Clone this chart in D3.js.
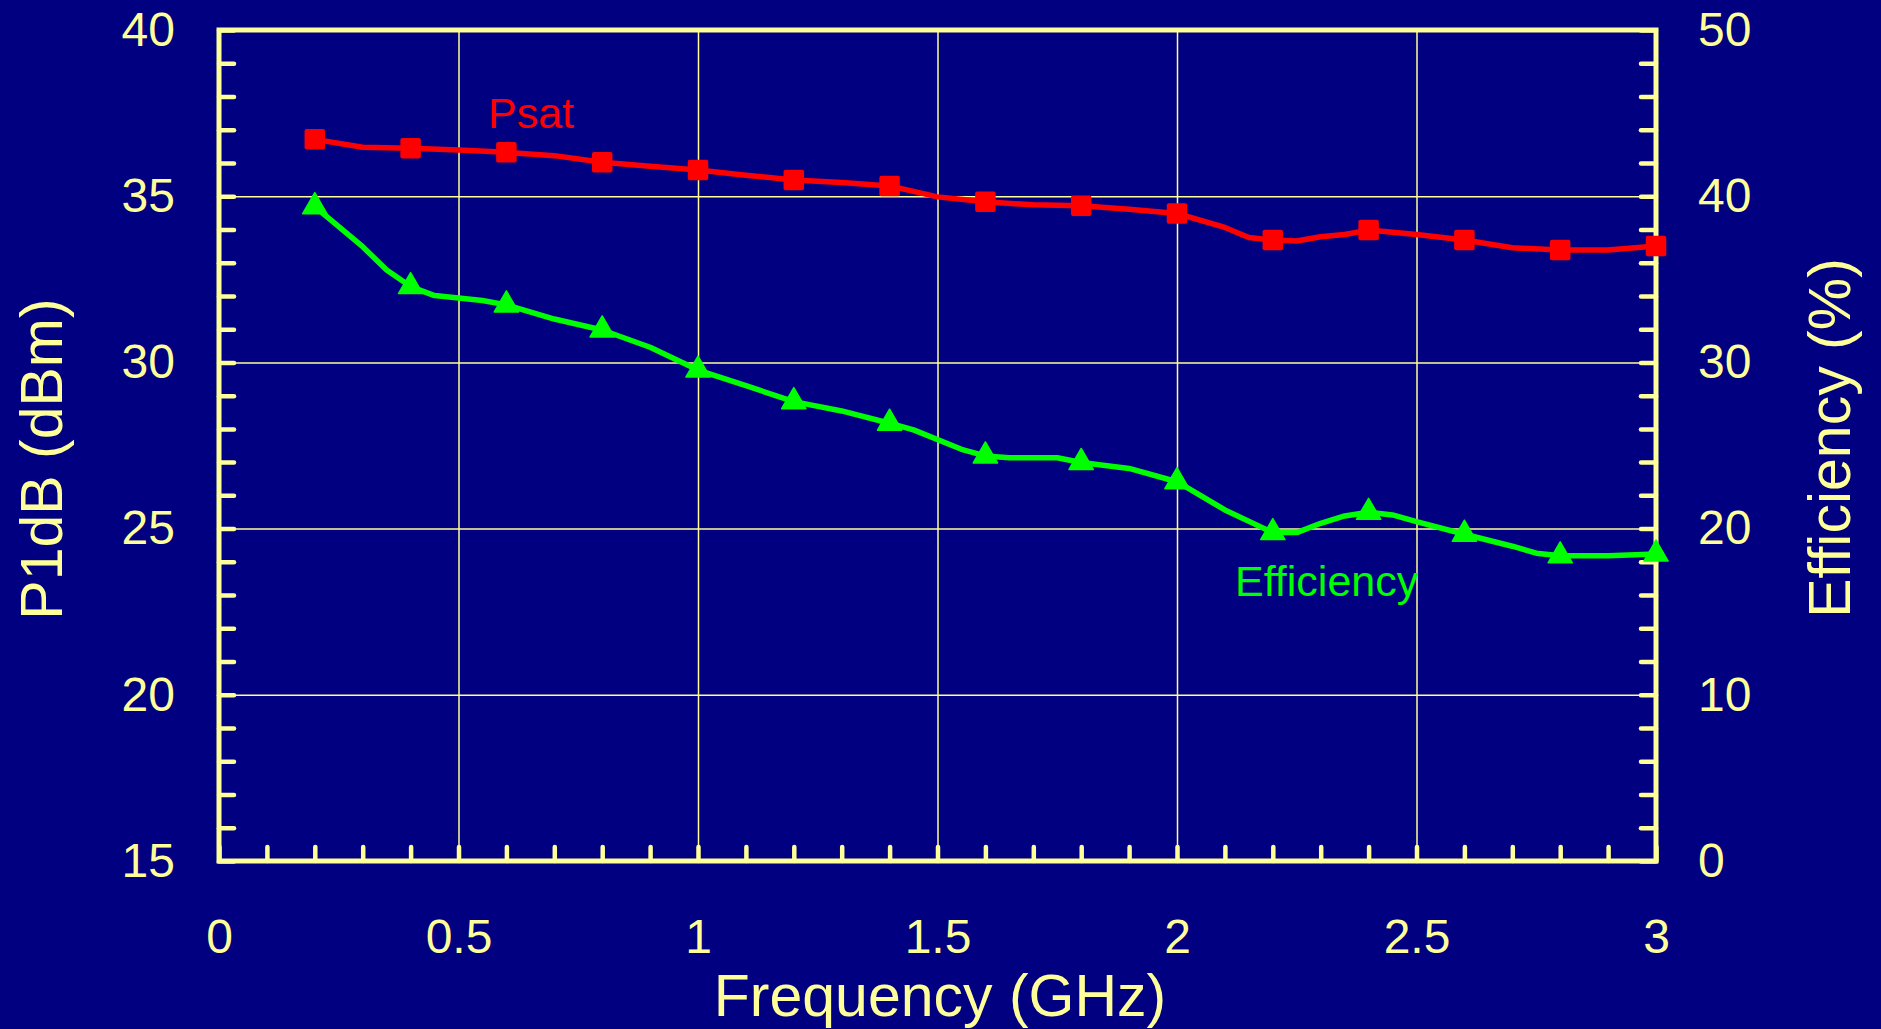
<!DOCTYPE html>
<html>
<head>
<meta charset="utf-8">
<script src="https://cdn.jsdelivr.net/npm/d3@7"></script>
<style>
  body { margin: 0; background: #000080; }
  svg { display: block; }
  text { font-family: "Liberation Sans", Arial, Helvetica, sans-serif; }
</style>
</head>
<body>
<script>
// tick labels
var xTickVals = [0, 0.5, 1, 1.5, 2, 2.5, 3];
var leftTickVals = [15, 20, 25, 30, 35, 40];
var rightTickVals = [0, 10, 20, 30, 40, 50];

// Psat curve (dBm)
var psatFreq = [0.2, 0.3, 0.4, 0.5, 0.6, 0.7, 0.8, 0.9, 1.0, 1.1, 1.2, 1.3, 1.4, 1.5, 1.6, 1.7, 1.8, 1.9, 2.0,
                2.1, 2.15, 2.2, 2.25, 2.3, 2.35, 2.4, 2.5, 2.6, 2.7, 2.8, 2.9, 3.0];
var psat = [36.71, 36.47, 36.44, 36.39, 36.32, 36.22, 36.02, 35.90, 35.79, 35.63, 35.49, 35.41, 35.31, 34.98, 34.83, 34.74, 34.71, 34.61, 34.48,
            34.06, 33.76, 33.68, 33.65, 33.78, 33.85, 33.98, 33.85, 33.68, 33.45, 33.38, 33.38, 33.50];

// Efficiency curve (%)
var effFreq = [0.2, 0.3, 0.35, 0.4, 0.45, 0.55, 0.6, 0.7, 0.8, 0.9, 1.0, 1.1, 1.2, 1.3, 1.4, 1.45, 1.55, 1.6, 1.65, 1.75, 1.8, 1.9, 2.0,
               2.1, 2.2, 2.25, 2.3, 2.35, 2.4, 2.45, 2.5, 2.6, 2.7, 2.75, 2.8, 2.9, 3.0];
var eff = [39.37, 36.96, 35.56, 34.56, 34.02, 33.72, 33.46, 32.61, 31.95, 30.91, 29.54, 28.60, 27.64, 27.08, 26.34, 25.94, 24.77, 24.37, 24.26, 24.26, 23.98, 23.62, 22.82,
           21.12, 19.76, 19.76, 20.32, 20.76, 20.98, 20.82, 20.42, 19.66, 18.94, 18.52, 18.36, 18.36, 18.47];

var w = 1881, h = 1029;
var pLeft = 219, pRight = 1656, pTop = 30, pBottom = 861;
var yellow = "#ffff99";

var svg = d3.select("body").append("svg")
    .attr("width", w)
    .attr("height", h);

var x = d3.scaleLinear().domain([0, 3]).range([pLeft, pRight]);
var yL = d3.scaleLinear().domain([15, 40]).range([pBottom, pTop]);
var yR = d3.scaleLinear().domain([0, 50]).range([pBottom, pTop]);

// grid
svg.append("g")
    .attr("class", "grid")
    .attr("transform", "translate(0," + pBottom + ")")
    .call(d3.axisBottom(x).tickValues([0.5, 1, 1.5, 2, 2.5]).tickSize(-(pBottom - pTop)).tickFormat(""));
svg.append("g")
    .attr("class", "grid")
    .attr("transform", "translate(" + pLeft + ",0)")
    .call(d3.axisLeft(yL).tickValues([20, 25, 30, 35]).tickSize(-(pRight - pLeft)).tickFormat(""));
svg.selectAll(".grid .domain").remove();
svg.selectAll(".grid line").attr("stroke", yellow).attr("stroke-width", 1.5);

// frame
svg.append("rect")
    .attr("x", pLeft).attr("y", pTop)
    .attr("width", pRight - pLeft).attr("height", pBottom - pTop)
    .attr("fill", "none")
    .attr("stroke", yellow)
    .attr("stroke-width", 5);

// minor + major ticks, pointing inwards
svg.append("g")
    .attr("class", "tk")
    .attr("transform", "translate(0," + pBottom + ")")
    .call(d3.axisBottom(x).tickValues(x.ticks(30)).tickSize(-14).tickFormat(""));
svg.append("g")
    .attr("class", "tk")
    .attr("transform", "translate(" + pLeft + ",0)")
    .call(d3.axisLeft(yL).tickValues(yL.ticks(25)).tickSize(-15).tickFormat(""));
svg.append("g")
    .attr("class", "tk")
    .attr("transform", "translate(" + pRight + ",0)")
    .call(d3.axisRight(yR).tickValues(yR.ticks(25)).tickSize(-15).tickFormat(""));
svg.selectAll(".tk .domain").remove();
svg.selectAll(".tk line")
    .attr("stroke", yellow)
    .attr("stroke-width", 4.5)
    .attr("stroke-linecap", "round");

// tick labels
svg.append("g")
    .attr("class", "lab")
    .attr("transform", "translate(0," + pBottom + ")")
    .call(d3.axisBottom(x).tickValues(xTickVals).tickSize(0).tickPadding(58).tickFormat(function (d) { return String(d); }));
svg.append("g")
    .attr("class", "lab")
    .attr("transform", "translate(" + pLeft + ",0)")
    .call(d3.axisLeft(yL).tickValues(leftTickVals).tickSize(0).tickPadding(44).tickFormat(function (d) { return String(d); }));
svg.append("g")
    .attr("class", "lab")
    .attr("transform", "translate(" + pRight + ",0)")
    .call(d3.axisRight(yR).tickValues(rightTickVals).tickSize(0).tickPadding(42).tickFormat(function (d) { return String(d); }));
svg.selectAll(".lab .domain").remove();
svg.selectAll(".lab text")
    .attr("fill", yellow)
    .attr("font-size", 48)
    .style("font-family", "'Liberation Sans', Arial, sans-serif");

// axis titles
svg.append("text")
    .attr("x", 940).attr("y", 1016)
    .attr("text-anchor", "middle")
    .attr("font-size", 59)
    .attr("fill", yellow)
    .text("Frequency (GHz)");
svg.append("text")
    .attr("transform", "translate(62,459) rotate(-90)")
    .attr("text-anchor", "middle")
    .attr("font-size", 59)
    .attr("fill", yellow)
    .text("P1dB (dBm)");
svg.append("text")
    .attr("transform", "translate(1850,438) rotate(-90)")
    .attr("text-anchor", "middle")
    .attr("font-size", 59)
    .attr("fill", yellow)
    .text("Efficiency (%)");

// curves
var psatData = psatFreq.map(function (f, i) { return [f, psat[i]]; });
var effData = effFreq.map(function (f, i) { return [f, eff[i]]; });

function onMarker(f) {
    var t = Math.round(f * 10);
    return Math.abs(f * 10 - t) < 1e-6 && t % 2 === 0;
}

svg.append("path")
    .datum(psatData)
    .attr("fill", "none")
    .attr("stroke", "#ff0000")
    .attr("stroke-width", 5.5)
    .attr("stroke-linejoin", "round")
    .attr("d", d3.line().x(function (d) { return x(d[0]); }).y(function (d) { return yL(d[1]); }));

svg.append("path")
    .datum(effData)
    .attr("fill", "none")
    .attr("stroke", "#00ff00")
    .attr("stroke-width", 5.5)
    .attr("stroke-linejoin", "round")
    .attr("d", d3.line().x(function (d) { return x(d[0]); }).y(function (d) { return yR(d[1]); }));

var sq = 20.5;
svg.selectAll(".sq")
    .data(psatData.filter(function (d) { return onMarker(d[0]); }))
    .enter().append("rect")
    .attr("class", "sq")
    .attr("x", function (d) { return x(d[0]) - sq / 2; })
    .attr("y", function (d) { return yL(d[1]) - sq / 2; })
    .attr("width", sq).attr("height", sq)
    .attr("rx", 2)
    .attr("fill", "#ff0000");

svg.selectAll(".tri")
    .data(effData.filter(function (d) { return onMarker(d[0]); }))
    .enter().append("path")
    .attr("class", "tri")
    .attr("d", d3.symbol().type(d3.symbolTriangle).size(255))
    .attr("transform", function (d) { return "translate(" + x(d[0]) + "," + yR(d[1]) + ")"; })
    .attr("fill", "#00ff00")
    .attr("stroke", "#00ff00")
    .attr("stroke-width", 1.5)
    .attr("stroke-linejoin", "round");

// series labels
svg.append("text")
    .attr("x", 488).attr("y", 128)
    .attr("font-size", 43)
    .attr("fill", "#ff0000")
    .text("Psat");
svg.append("text")
    .attr("x", 1235).attr("y", 596)
    .attr("font-size", 43)
    .attr("fill", "#00ff00")
    .text("Efficiency");
</script>
</body>
</html>
